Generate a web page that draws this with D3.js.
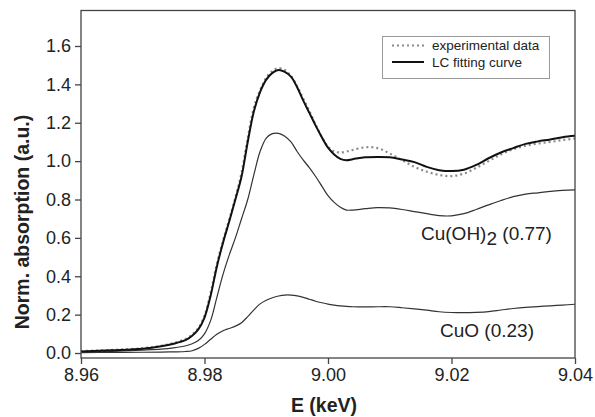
<!DOCTYPE html>
<html>
<head>
<meta charset="utf-8">
<script src="https://cdn.jsdelivr.net/npm/d3@7"></script>
<style>
  body { margin: 0; background: #fff; }
  svg { display: block; font-family: "Liberation Sans", Arial, sans-serif; }
</style>
</head>
<body>
<div id="wrapper"></div>
<script>
// Energy grid (keV)
const energy = [8.960, 8.965, 8.970, 8.973, 8.975, 8.977, 8.978, 8.979, 8.980, 8.981,
    8.982, 8.983, 8.984, 8.985, 8.986, 8.987, 8.988, 8.989, 8.990, 8.991,
    8.992, 8.993, 8.994, 8.995, 8.996, 8.997, 8.998, 8.999, 9.000, 9.001,
    9.002, 9.003, 9.004, 9.006, 9.008, 9.010, 9.012, 9.014, 9.016, 9.018,
    9.020, 9.022, 9.024, 9.026, 9.028, 9.030, 9.032, 9.034, 9.036, 9.038, 9.040]

// experimental spectrum
const experimental = [0.010, 0.016, 0.025, 0.038, 0.052, 0.074, 0.096, 0.130, 0.195, 0.315,
    0.465, 0.585, 0.695, 0.81, 0.94, 1.12, 1.28, 1.37, 1.435, 1.47,
    1.485, 1.475, 1.445, 1.39, 1.325, 1.26, 1.19, 1.125, 1.075, 1.05,
    1.045, 1.05, 1.058, 1.072, 1.068, 1.04, 1.005, 0.97, 0.945, 0.928,
    0.922, 0.935, 0.965, 1.00, 1.035, 1.062, 1.08, 1.092, 1.10, 1.11, 1.118]

// linear combination fit
const lcFit = [0.008, 0.014, 0.022, 0.035, 0.048, 0.068, 0.090, 0.123, 0.185, 0.30,
    0.45, 0.575, 0.685, 0.80, 0.92, 1.10, 1.26, 1.36, 1.425, 1.46,
    1.475, 1.465, 1.44, 1.385, 1.315, 1.25, 1.185, 1.125, 1.07, 1.035,
    1.012, 1.005, 1.010, 1.020, 1.022, 1.020, 1.008, 0.995, 0.97, 0.953,
    0.948, 0.955, 0.98, 1.015, 1.045, 1.068, 1.09, 1.103, 1.113, 1.125, 1.132]

// weighted components
const cuOH2 = [0.005, 0.009, 0.015, 0.020, 0.027, 0.038, 0.048, 0.065, 0.10, 0.17,
    0.29, 0.41, 0.51, 0.60, 0.70, 0.80, 0.93, 1.05, 1.12, 1.143,
    1.145, 1.13, 1.10, 1.05, 1.005, 0.965, 0.92, 0.87, 0.82, 0.785,
    0.76, 0.745, 0.745, 0.752, 0.758, 0.756, 0.748, 0.737, 0.726, 0.716,
    0.715, 0.726, 0.748, 0.772, 0.795, 0.815, 0.828, 0.835, 0.842, 0.848, 0.85]

const cuO = [0.002, 0.003, 0.004, 0.005, 0.006, 0.008, 0.012, 0.024, 0.045, 0.072,
    0.098, 0.116, 0.128, 0.140, 0.158, 0.190, 0.225, 0.256, 0.275, 0.288,
    0.297, 0.302, 0.302, 0.298, 0.290, 0.280, 0.270, 0.262, 0.255, 0.250,
    0.246, 0.243, 0.241, 0.240, 0.241, 0.241, 0.236, 0.230, 0.223, 0.215,
    0.211, 0.210, 0.212, 0.216, 0.224, 0.232, 0.238, 0.242, 0.246, 0.250, 0.254]

const xTicks = [8.96, 8.98, 9.00, 9.02, 9.04]
const yTicks = [0, 0.2, 0.4, 0.6, 0.8, 1.0, 1.2, 1.4, 1.6]

let dimensions = {
    width: 595,
    height: 417,
    margin: { top: 10.5, right: 20, bottom: 59, left: 81 },
}
dimensions.boundedWidth = dimensions.width - dimensions.margin.left - dimensions.margin.right
dimensions.boundedHeight = dimensions.height - dimensions.margin.top - dimensions.margin.bottom

const wrapper = d3.select("#wrapper")
    .append("svg")
    .attr("width", dimensions.width)
    .attr("height", dimensions.height)

const bounds = wrapper.append("g")
    .attr("transform", `translate(${dimensions.margin.left},${dimensions.margin.top})`)

const xScale = d3.scaleLinear()
    .domain([8.96, 9.04])
    .range([0, dimensions.boundedWidth])

const yScale = d3.scaleLinear()
    .domain([-0.026, 1.785])
    .range([dimensions.boundedHeight, 0])

const lineGenerator = d3.line()
    .x((d, i) => xScale(energy[i]))
    .y(d => yScale(d))
    .curve(d3.curveCatmullRom.alpha(0.5))

// components
bounds.append("path")
    .attr("d", lineGenerator(cuOH2))
    .attr("fill", "none")
    .attr("stroke", "#333")
    .attr("stroke-width", 1.2)

bounds.append("path")
    .attr("d", lineGenerator(cuO))
    .attr("fill", "none")
    .attr("stroke", "#333")
    .attr("stroke-width", 1.2)

// experimental data (dotted)
bounds.append("path")
    .attr("d", lineGenerator(experimental))
    .attr("fill", "none")
    .attr("stroke", "#8a8a8a")
    .attr("stroke-width", 2.2)
    .attr("stroke-dasharray", "2 3")

// LC fit
bounds.append("path")
    .attr("d", lineGenerator(lcFit))
    .attr("fill", "none")
    .attr("stroke", "#111")
    .attr("stroke-width", 2)

// axes
const yAxis = bounds.append("g")
    .call(d3.axisLeft(yScale).tickValues(yTicks).tickFormat(d3.format(".1f")).tickSize(6).tickSizeOuter(0))
yAxis.select(".domain").remove()

const xAxis = bounds.append("g")
    .attr("transform", `translate(0,${dimensions.boundedHeight})`)
    .call(d3.axisBottom(xScale).tickValues(xTicks).tickFormat(d3.format(".2f")).tickSize(6).tickSizeOuter(0))
xAxis.select(".domain").remove()

bounds.selectAll(".tick line").attr("stroke", "#444").attr("stroke-width", 1.3)
bounds.selectAll(".tick text")
    .attr("font-family", "Liberation Sans, Arial, sans-serif")
    .attr("font-size", 18)
    .attr("fill", "#222")
yAxis.selectAll(".tick text").attr("x", -10)
xAxis.selectAll(".tick text").attr("y", 10)

// frame
bounds.append("rect")
    .attr("width", dimensions.boundedWidth)
    .attr("height", dimensions.boundedHeight)
    .attr("fill", "none")
    .attr("stroke", "#444")
    .attr("stroke-width", 1.3)

// axis titles
wrapper.append("text")
    .attr("x", 324)
    .attr("y", 412)
    .attr("text-anchor", "middle")
    .attr("font-size", 19.5)
    .attr("font-weight", "bold")
    .attr("fill", "#222")
    .text("E (keV)")

wrapper.append("text")
    .attr("transform", "translate(29,222) rotate(-90)")
    .attr("text-anchor", "middle")
    .attr("font-size", 19.5)
    .attr("font-weight", "bold")
    .attr("fill", "#222")
    .text("Norm. absorption (a.u.)")

// component labels
const cuOH2Label = wrapper.append("text")
    .attr("x", 421)
    .attr("y", 240)
    .attr("font-size", 19)
    .attr("fill", "#222")
cuOH2Label.append("tspan").text("Cu(OH)")
cuOH2Label.append("tspan").attr("dy", 5).text("2")
cuOH2Label.append("tspan").attr("dy", -5).text(" (0.77)")

wrapper.append("text")
    .attr("x", 440)
    .attr("y", 337)
    .attr("font-size", 19)
    .attr("fill", "#222")
    .text("CuO (0.23)")

// legend
const legend = wrapper.append("g")
legend.append("rect")
    .attr("x", 382.5)
    .attr("y", 36.5)
    .attr("width", 167)
    .attr("height", 42)
    .attr("fill", "#fff")
    .attr("stroke", "#999")
    .attr("stroke-width", 1)
legend.append("line")
    .attr("x1", 392).attr("x2", 424)
    .attr("y1", 45.5).attr("y2", 45.5)
    .attr("stroke", "#8a8a8a")
    .attr("stroke-width", 2)
    .attr("stroke-dasharray", "2 3")
legend.append("line")
    .attr("x1", 392).attr("x2", 424)
    .attr("y1", 62).attr("y2", 62)
    .attr("stroke", "#111")
    .attr("stroke-width", 2)
legend.append("text")
    .attr("x", 432).attr("y", 50)
    .attr("font-size", 13.5)
    .attr("fill", "#222")
    .text("experimental data")
legend.append("text")
    .attr("x", 432).attr("y", 66.5)
    .attr("font-size", 13.5)
    .attr("fill", "#222")
    .text("LC fitting curve")
</script>
</body>
</html>
